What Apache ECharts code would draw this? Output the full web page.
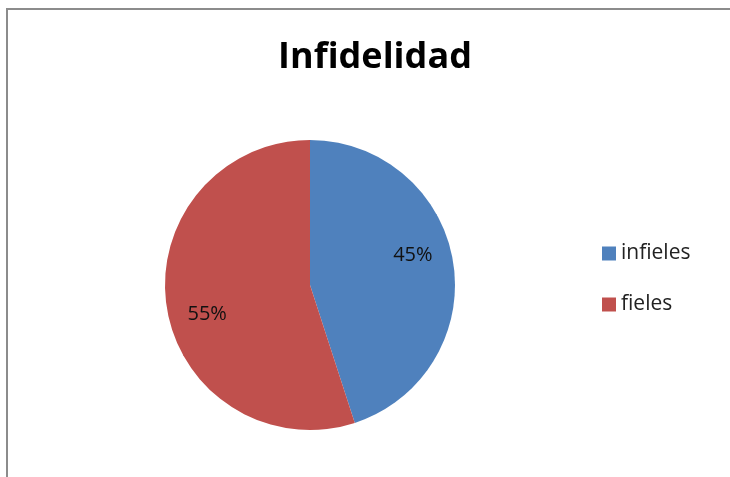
<!DOCTYPE html>
<html><head><meta charset="utf-8">
<script src="https://cdn.jsdelivr.net/npm/echarts@6/dist/echarts.min.js"></script>
<style>html,body{margin:0;padding:0;background:#fff}#c{width:730px;height:477px}</style>
</head><body><div id="c"></div>
<script>
var categories = ['infieles', 'fieles'];
var values = [45, 55];
var colors = ['#4F81BD', '#C0504D'];
var titleText = 'Infidelidad';

var FONT = 'Open Sans';
var chart = echarts.init(document.getElementById('c'));
var CX = 310, CY = 285, R = 145;
chart.setOption({
  animation: false,
  graphic: [{
    type: 'rect', shape: {x: 7, y: 9, width: 740, height: 490},
    style: {fill: 'none', stroke: '#8c8c8c', lineWidth: 2}, silent: true, z: -1
  }],
  title: {
    text: titleText, left: 370, textAlign: 'center', top: 35,
    textStyle: {fontFamily: FONT, fontWeight: 'bold', fontSize: 36, color: '#000'}
  },
  legend: {
    orient: 'vertical', left: 597, top: 238, itemWidth: 14, itemHeight: 14, itemGap: 30,
    icon: 'rect',
    data: categories,
    textStyle: {fontFamily: FONT, fontSize: 21, color: '#222', padding: [0,0,0,0]}
  },
  series: [{
    type: 'pie', center: [CX, CY], radius: [0, R], startAngle: 90, clockwise: true,
    silent: true,
    label: {
      show: true, position: 'inside', formatter: '{d}%',
      fontFamily: FONT, fontSize: 20, color: '#111'
    },
    labelLayout: function (p) {
      var lx = p.labelRect.x + p.labelRect.width / 2 - CX;
      var ly = p.labelRect.y + p.labelRect.height / 2 - CY;
      var k = 107 / Math.sqrt(lx * lx + ly * ly);
      var a = -7 * Math.PI / 180;
      var rx = lx * Math.cos(a) - ly * Math.sin(a);
      var ry = lx * Math.sin(a) + ly * Math.cos(a);
      return {x: CX + rx * k, y: CY + ry * k, align: 'center', verticalAlign: 'middle'};
    },
    itemStyle: {borderWidth: 0},
    data: categories.map(function (c, i) {
      return {name: c, value: values[i], itemStyle: {color: colors[i]}};
    })
  }]
});
</script></body></html>
